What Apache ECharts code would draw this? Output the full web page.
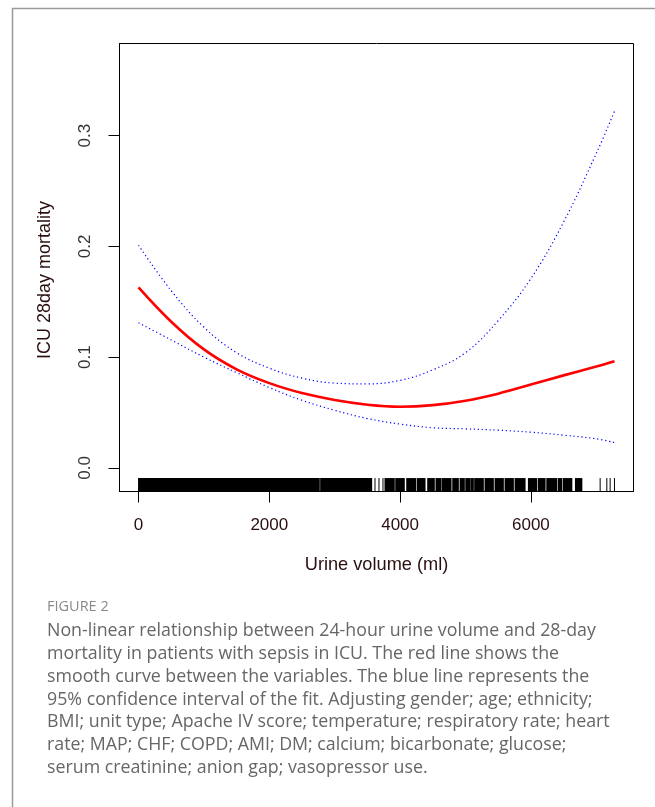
<!DOCTYPE html>
<html>
<head>
<meta charset="utf-8">
<script src="https://cdn.jsdelivr.net/npm/echarts@6/dist/echarts.min.js"></script>
<style>
  html, body { margin: 0; padding: 0; background: #fff; }
  #chart { width: 655px; height: 807px; }
</style>
</head>
<body>
<div id="chart"></div>
<script>
// smooth fit of ICU 28-day mortality vs urine volume, with 95% CI
var urineX = [0, 500, 1000, 1500, 2000, 2500, 3000, 3500, 4000, 4500, 5000, 5500, 6000, 6500, 7000, 7278];
var fitY   = [0.163, 0.132, 0.107, 0.089, 0.0765, 0.0675, 0.0612, 0.057, 0.0552, 0.0566, 0.0606, 0.067, 0.0752, 0.0835, 0.0915, 0.0963];
var upperY = [0.201, 0.160, 0.127, 0.104, 0.090, 0.081, 0.0765, 0.0758, 0.079, 0.0885, 0.104, 0.133, 0.171, 0.222, 0.284, 0.322];
var lowerY = [0.131, 0.1155, 0.100, 0.086, 0.0725, 0.061, 0.052, 0.0445, 0.0395, 0.0362, 0.0352, 0.034, 0.0322, 0.0295, 0.0262, 0.0228];

// rug of observations: solid stretches [from, to] and lone ticks (ml)
var rugBands = [[0, 2764], [2785, 3565], [3769, 3911], [3933, 4064], [4101, 4239], [4263, 4381],
  [4422, 4523], [4549, 4626], [4646, 4779], [4805, 4891], [4917, 4982], [5004, 5070], [5085, 5120],
  [5140, 5273], [5299, 5426], [5452, 5579], [5605, 5732], [5758, 5911], [5962, 6090], [6115, 6217],
  [6243, 6396], [6420, 6473], [6497, 6626], [6681, 6779]];
var rugTicks = [3616, 3677, 3738, 3800, 7059, 7161, 7212, 7278];

var xTicks = [0, 2000, 4000, 6000];
var yTicks = [0, 0.1, 0.2, 0.3];
var xMin = -291, xMax = 7569;
var yMin = -0.0214, yMax = 0.3833;

var xTitle = 'Urine volume (ml)';
var yTitle = 'ICU 28day mortality';
var captionTitle = 'FIGURE 2';
var captionLines = [
  'Non-linear relationship between 24-hour urine volume and 28-day',
  'mortality in patients with sepsis in ICU. The red line shows the',
  'smooth curve between the variables. The blue line represents the',
  '95% confidence interval of the fit. Adjusting gender; age; ethnicity;',
  'BMI; unit type; Apache IV score; temperature; respiratory rate; heart',
  'rate; MAP; CHF; COPD; AMI; DM; calcium; bicarbonate; glucose;',
  'serum creatinine; anion gap; vasopressor use.'
];

function pairs(xs, ys) {
  var out = [];
  for (var i = 0; i < xs.length; i++) out.push([xs[i], ys[i]]);
  return out;
}

var rugH = 0.03 * (yMax - yMin);
var labelFont = 'Liberation Sans, Arial, sans-serif';
var ink = '#2a0f0f';

var chart = echarts.init(document.getElementById('chart'), null, { renderer: 'canvas' });
chart.setOption({
  backgroundColor: '#fff',
  animation: false,
  grid: {
    left: 119.5, top: 43.5, width: 514, height: 448,
    show: true, borderColor: '#000', borderWidth: 1, backgroundColor: 'transparent'
  },
  xAxis: {
    type: 'value', min: xMin, max: xMax,
    name: xTitle, nameLocation: 'middle', nameGap: 64,
    nameTextStyle: { color: ink, fontSize: 18.2, fontFamily: labelFont },
    axisLine: { show: true, onZero: false, lineStyle: { color: '#000', width: 1 } },
    axisTick: { show: true, inside: false, length: 11, customValues: xTicks, lineStyle: { color: '#000' } },
    axisLabel: { customValues: xTicks, margin: 25, color: ink, fontSize: 17, fontFamily: labelFont,
      formatter: function (v) { return String(v); } },
    splitLine: { show: false }
  },
  yAxis: {
    type: 'value', min: yMin, max: yMax,
    axisLine: { show: true, onZero: false, lineStyle: { color: '#000', width: 1 } },
    axisTick: { show: true, inside: false, length: 11, customValues: yTicks, lineStyle: { color: '#000' } },
    axisLabel: { customValues: yTicks, rotate: 90, margin: 26, color: '#333', fontSize: 17, fontFamily: labelFont,
      formatter: function (v) { return v.toFixed(1); } },
    splitLine: { show: false }
  },
  series: [
    {
      type: 'custom', name: 'rugBands', data: rugBands, encode: { x: [0, 1] }, silent: true,
      renderItem: function (params, api) {
        var p0 = api.coord([api.value(0), yMin]);
        var p1 = api.coord([api.value(1), yMin + rugH]);
        return {
          type: 'rect',
          shape: { x: p0[0] - 0.5, y: p1[1], width: Math.max(p1[0] - p0[0], 1) + 1, height: p0[1] - p1[1] },
          style: { fill: '#000' }
        };
      }
    },
    {
      type: 'custom', name: 'rugTicks', data: rugTicks.map(function (v) { return [v]; }), encode: { x: 0 }, silent: true,
      renderItem: function (params, api) {
        var p0 = api.coord([api.value(0), yMin]);
        var p1 = api.coord([api.value(0), yMin + rugH]);
        return {
          type: 'line',
          shape: { x1: p0[0], y1: p0[1], x2: p1[0], y2: p1[1] },
          style: { stroke: '#000', lineWidth: 1 }
        };
      }
    },
    {
      type: 'line', name: 'upper', data: pairs(urineX, upperY), smooth: 0.4, showSymbol: false,
      lineStyle: { color: '#0000ff', width: 1.2, type: [1.2, 2.8] }
    },
    {
      type: 'line', name: 'lower', data: pairs(urineX, lowerY), smooth: 0.4, showSymbol: false,
      lineStyle: { color: '#0000ff', width: 1.2, type: [1.2, 2.8] }
    },
    {
      type: 'line', name: 'fit', data: pairs(urineX, fitY), smooth: 0.4, showSymbol: false,
      lineStyle: { color: '#ff0000', width: 2.6 }
    }
  ],
  graphic: [
    {
      type: 'polyline', silent: true,
      shape: { points: [[12.5, 807], [12.5, 8.5], [655, 8.5]] },
      style: { stroke: '#9a9a9a', lineWidth: 1.5, fill: null }
    },
    {
      type: 'text', x: 45, y: 280, rotation: Math.PI / 2, silent: true,
      style: { text: yTitle, fill: ink, font: '18px Liberation Sans, Arial, sans-serif', align: 'center', verticalAlign: 'middle' }
    },
    {
      type: 'text', left: 47, top: 599, silent: true,
      style: { text: captionTitle, fill: '#8a8a8a', font: '14.5px "Open Sans", sans-serif' }
    },
    {
      type: 'text', left: 47, top: 620, silent: true,
      style: { text: captionLines.join('\n'), fill: '#666', font: '17.8px "Open Sans", sans-serif', lineHeight: 22.75 }
    }
  ]
});
</script>
</body>
</html>
